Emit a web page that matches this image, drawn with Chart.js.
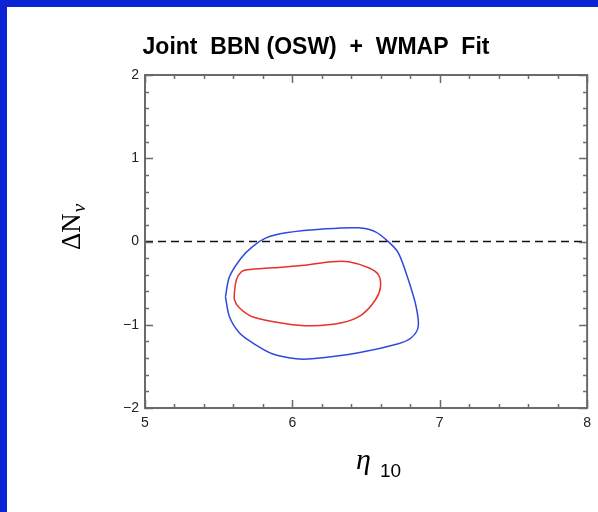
<!DOCTYPE html>
<html>
<head>
<meta charset="utf-8">
<script src="https://cdn.jsdelivr.net/npm/chart.js@4.4.0/dist/chart.umd.min.js"></script>
<style>
  html, body { margin: 0; padding: 0; background: #0a24d6; }
  #wrap { position: absolute; left: 7px; top: 7px; width: 591px; height: 505px; background: #fff; }
  canvas { display: block; }
</style>
</head>
<body>
<div id="wrap"><canvas id="c" width="591" height="505"></canvas></div>
<script>
// 95% (blue) and 68% (red) contours, eta_10 vs delta N_nu
const blueX = [5.546, 5.573, 5.654, 5.728, 5.822, 5.957, 6.227, 6.449, 6.564, 6.652, 6.719, 6.787, 6.840, 6.854, 6.807, 6.719, 6.449, 6.133, 6.025, 5.863, 5.728, 5.640, 5.573, 5.546];
const blueY = [-0.664, -0.424, -0.196, -0.064, 0.044, 0.104, 0.152, 0.164, 0.116, -0.004, -0.136, -0.460, -0.784, -1.024, -1.156, -1.228, -1.336, -1.408, -1.408, -1.348, -1.216, -1.096, -0.904, -0.664];
const redX = [5.607, 5.620, 5.654, 5.694, 5.863, 6.045, 6.267, 6.382, 6.517, 6.584, 6.598, 6.564, 6.470, 6.335, 6.133, 5.957, 5.728, 5.640, 5.607, 5.607];
const redY = [-0.604, -0.460, -0.364, -0.340, -0.316, -0.292, -0.244, -0.244, -0.316, -0.400, -0.544, -0.700, -0.880, -0.976, -1.012, -0.988, -0.904, -0.796, -0.700, -0.604];
const refX = [5, 8];
const refY = [0, 0];
const xTicks = [5, 6, 7, 8];
const yTicks = [-2, -1, 0, 1, 2];

const pts = (xs, ys) => xs.map((x, i) => ({ x: x, y: ys[i] }));
const minus = v => v < 0 ? '\u2212' + Math.abs(v) : String(v);

// frame with inward ticks on all four sides, titles
const frame = {
    id: 'frame',
    afterDraw(chart) {
        const ctx = chart.ctx, a = chart.chartArea;
        const sx = chart.scales.x, sy = chart.scales.y;
        ctx.save();
        ctx.strokeStyle = '#6a6a6a';
        ctx.lineWidth = 1.5;
        ctx.beginPath();
        for (let i = 0; i <= 15; i++) {
            const v = 5 + i * 0.2;
            const p = Math.round(sx.getPixelForValue(v)) + 0.5;
            const len = i % 5 === 0 ? 8 : 4;
            ctx.moveTo(p, a.bottom); ctx.lineTo(p, a.bottom - len);
            ctx.moveTo(p, a.top); ctx.lineTo(p, a.top + len);
        }
        for (let i = 0; i <= 20; i++) {
            const v = -2 + i * 0.2;
            const p = Math.round(sy.getPixelForValue(v)) + 0.5;
            const len = i % 5 === 0 ? 8 : 4;
            ctx.moveTo(a.left, p); ctx.lineTo(a.left + len, p);
            ctx.moveTo(a.right, p); ctx.lineTo(a.right - len, p);
        }
        ctx.stroke();
        ctx.lineWidth = 2;
        ctx.strokeRect(a.left, a.top, a.right - a.left, a.bottom - a.top);

        ctx.fillStyle = '#000';
        ctx.textBaseline = 'alphabetic';
        ctx.textAlign = 'center';
        ctx.font = 'bold 23px "Liberation Sans", Arial, sans-serif';
        ctx.fillText('Joint  BBN (OSW)  +  WMAP  Fit', 309, 46.5);

        // x axis title: eta_10
        ctx.textAlign = 'left';
        ctx.font = 'italic 30px "Liberation Serif", serif';
        ctx.fillText('\u03b7', 349, 462);
        ctx.font = '19px "Liberation Sans", sans-serif';
        ctx.fillText('10', 373, 470);

        // y axis title: Delta N_nu
        ctx.translate(73, 243);
        ctx.rotate(-Math.PI / 2);
        ctx.font = '27px "Liberation Serif", serif';
        ctx.fillText('\u0394N', 0, 0);
        const w = ctx.measureText('\u0394N').width;
        ctx.font = 'italic 19px "Liberation Serif", serif';
        ctx.fillText('\u03bd', w + 1, 5);
        ctx.restore();
    }
};

const tickFont = { size: 14, family: '"Liberation Sans", Arial, sans-serif' };

new Chart(document.getElementById('c'), {
    type: 'scatter',
    data: {
        datasets: [
            { data: pts(refX, refY), showLine: true, borderColor: '#111', borderWidth: 1.3, borderDash: [8, 5], pointRadius: 0 },
            { data: pts(blueX, blueY), showLine: true, borderColor: '#3048e0', borderWidth: 1.5, pointRadius: 0, tension: 0.3 },
            { data: pts(redX, redY), showLine: true, borderColor: '#e63228', borderWidth: 1.5, pointRadius: 0, tension: 0.3 }
        ]
    },
    options: {
        responsive: false,
        animation: false,
        layout: { padding: { top: 68, right: 8, bottom: 0, left: 0 } },
        plugins: { legend: { display: false }, tooltip: { enabled: false }, title: { display: false } },
        scales: {
            x: {
                type: 'linear', min: 5, max: 8,
                grid: { display: false, drawTicks: false }, border: { display: false },
                afterFit: s => { s.height = 104; },
                afterBuildTicks: s => { s.ticks = xTicks.map(v => ({ value: v })); },
                ticks: { padding: 7, color: '#222', font: tickFont, callback: minus }
            },
            y: {
                type: 'linear', min: -2, max: 2,
                grid: { display: false, drawTicks: false }, border: { display: false },
                afterFit: s => { s.width = 138; },
                afterBuildTicks: s => { s.ticks = yTicks.map(v => ({ value: v })); },
                ticks: { padding: 6, color: '#222', font: tickFont, callback: minus }
            }
        }
    },
    plugins: [frame]
});
</script>
</body>
</html>
